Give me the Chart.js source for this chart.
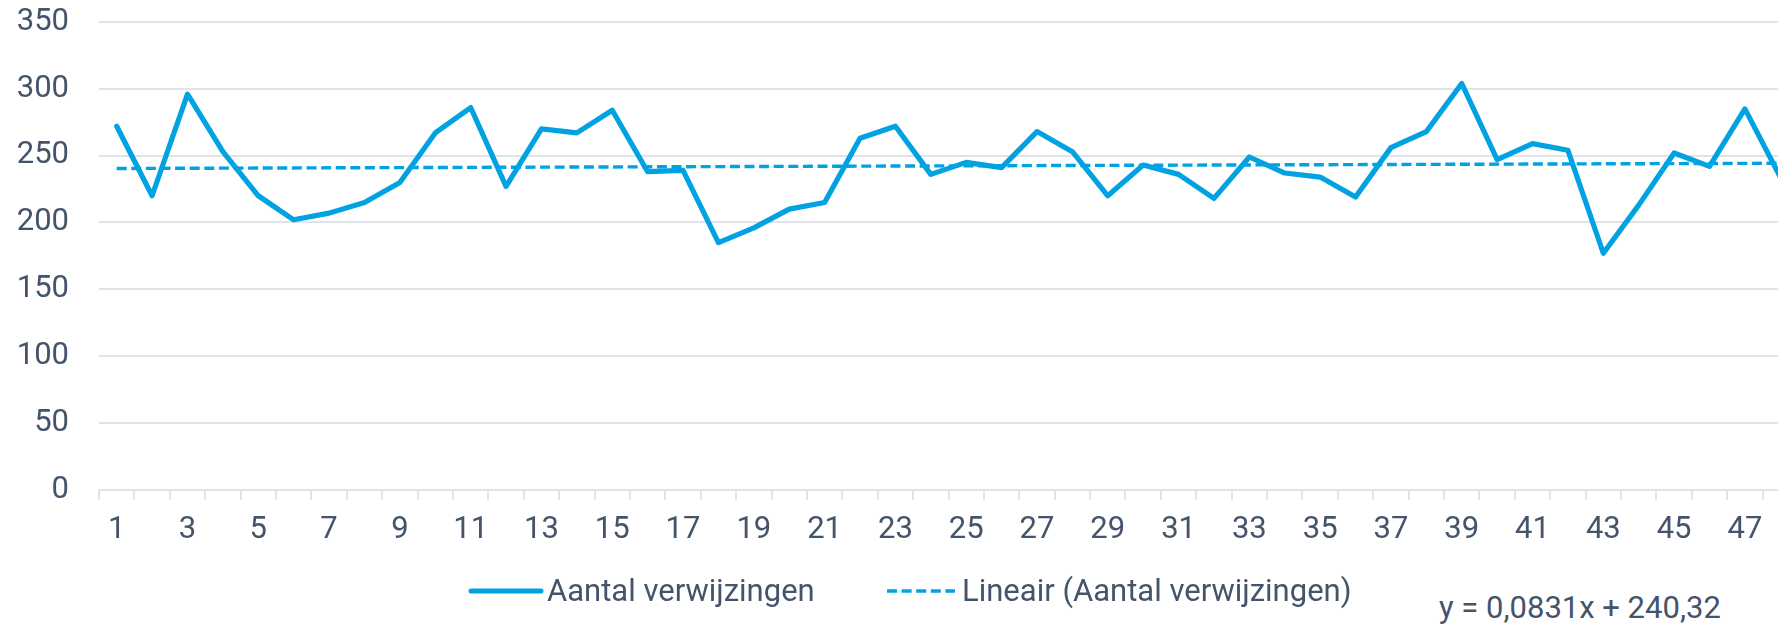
<!DOCTYPE html>
<html>
<head>
<meta charset="utf-8">
<script src="https://cdn.jsdelivr.net/npm/chart.js@4.4.1/dist/chart.umd.min.js"></script>
<style>
  html, body { margin: 0; padding: 0; background: #ffffff; overflow: hidden; }
  #wrap { position: relative; width: 1778px; height: 626px; overflow: hidden; background: #fff; }
  #box { position: absolute; left: 0; top: 0; width: 1812px; height: 573px; }
  .lg { position: absolute; font-family: Roboto, "Noto Sans", sans-serif; font-size: 31px; color: #44546A; white-space: nowrap; line-height: 1; }
  .sw { position: absolute; }
</style>
</head>
<body>
<div id="wrap">
  <div id="box"><canvas id="c"></canvas></div>
  <svg class="sw" style="left:468px; top:586px;" width="76" height="10">
    <line x1="3" y1="5" x2="73" y2="5" stroke="#00A2E2" stroke-width="5" stroke-linecap="round"/>
  </svg>
  <div class="lg" id="l1" style="left:547px; top:575px;">Aantal verwijzingen</div>
  <svg class="sw" style="left:886px; top:587px;" width="70" height="8">
    <line x1="1" y1="4" x2="69" y2="4" stroke="#00A2E2" stroke-width="3.4" stroke-dasharray="10 4.6"/>
  </svg>
  <div class="lg" id="l2" style="left:962px; top:575px;">Lineair (Aantal verwijzingen)</div>
  <div class="lg" id="eq" style="left:1439px; top:592px;">y = 0,0831x + 240,32</div>
</div>
<script>
// ---- data ----
const categories = ['1','2','3','4','5','6','7','8','9','10','11','12','13','14','15','16','17','18','19','20','21','22','23','24','25','26','27','28','29','30','31','32','33','34','35','36','37','38','39','40','41','42','43','44','45','46','47','48'];
const verwijzingen = [272,220,296,253,220,202,207,215,230,267,286,227,270,267,284,238,239,185,196,210,215,263,272,236,245,241,268,253,220,243,236,218,249,237,234,219,256,268,304,247,259,254,177,213,252,242,285,234];
const trendStart = 240.40;
const trendEnd = 244.31;
const yTicks = [0,50,100,150,200,250,300,350];

const trendData = categories.map((_, i) => i === 0 ? trendStart : (i === categories.length - 1 ? trendEnd : null));

const textColor = '#44546A';
const gridColor = '#DFE3EA';
const lineColor = '#00A2E2';

new Chart(document.getElementById('c'), {
  type: 'line',
  data: {
    labels: categories,
    datasets: [
      {
        label: 'Aantal verwijzingen',
        data: verwijzingen,
        borderColor: lineColor,
        backgroundColor: lineColor,
        borderWidth: 5.2,
        pointRadius: 0,
        pointHoverRadius: 0,
        tension: 0,
        borderJoinStyle: 'round',
        borderCapStyle: 'round',
        fill: false
      },
      {
        label: 'Lineair (Aantal verwijzingen)',
        data: trendData,
        borderColor: lineColor,
        backgroundColor: lineColor,
        borderWidth: 3.4,
        borderDash: [10, 4.6],
        pointRadius: 0,
        pointHoverRadius: 0,
        spanGaps: true,
        tension: 0,
        fill: false
      }
    ]
  },
  options: {
    responsive: true,
    maintainAspectRatio: false,
    animation: false,
    devicePixelRatio: 1,
    events: [],
    layout: { padding: { left: 17, right: 14, top: 22, bottom: 12 } },
    plugins: {
      legend: { display: false },
      tooltip: { enabled: false },
      title: { display: false }
    },
    scales: {
      x: {
        offset: true,
        grid: {
          display: true,
          offset: true,
          drawOnChartArea: false,
          drawTicks: true,
          tickLength: 10,
          color: gridColor,
          lineWidth: 2
        },
        border: { display: true, color: gridColor, width: 2 },
        afterFit: (scale) => { scale.paddingLeft = 0; scale.paddingRight = 0; },
        ticks: {
          autoSkip: false,
          maxRotation: 0,
          minRotation: 0,
          padding: 12,
          color: textColor,
          font: { family: 'Roboto', size: 31 },
          callback: function(value, index) { return index % 2 === 0 ? categories[index] : ''; }
        }
      },
      y: {
        min: 0,
        max: 350,
        afterBuildTicks: (scale) => { scale.ticks = yTicks.map(v => ({ value: v })); },
        afterFit: (scale) => { scale.width = 82; scale.paddingTop = 0; scale.paddingBottom = 0; },
        grid: {
          color: gridColor,
          lineWidth: 2,
          drawTicks: false
        },
        border: { display: false },
        ticks: {
          padding: 30,
          color: textColor,
          font: { family: 'Roboto', size: 31 }
        }
      }
    }
  }
});
</script>
</body>
</html>
